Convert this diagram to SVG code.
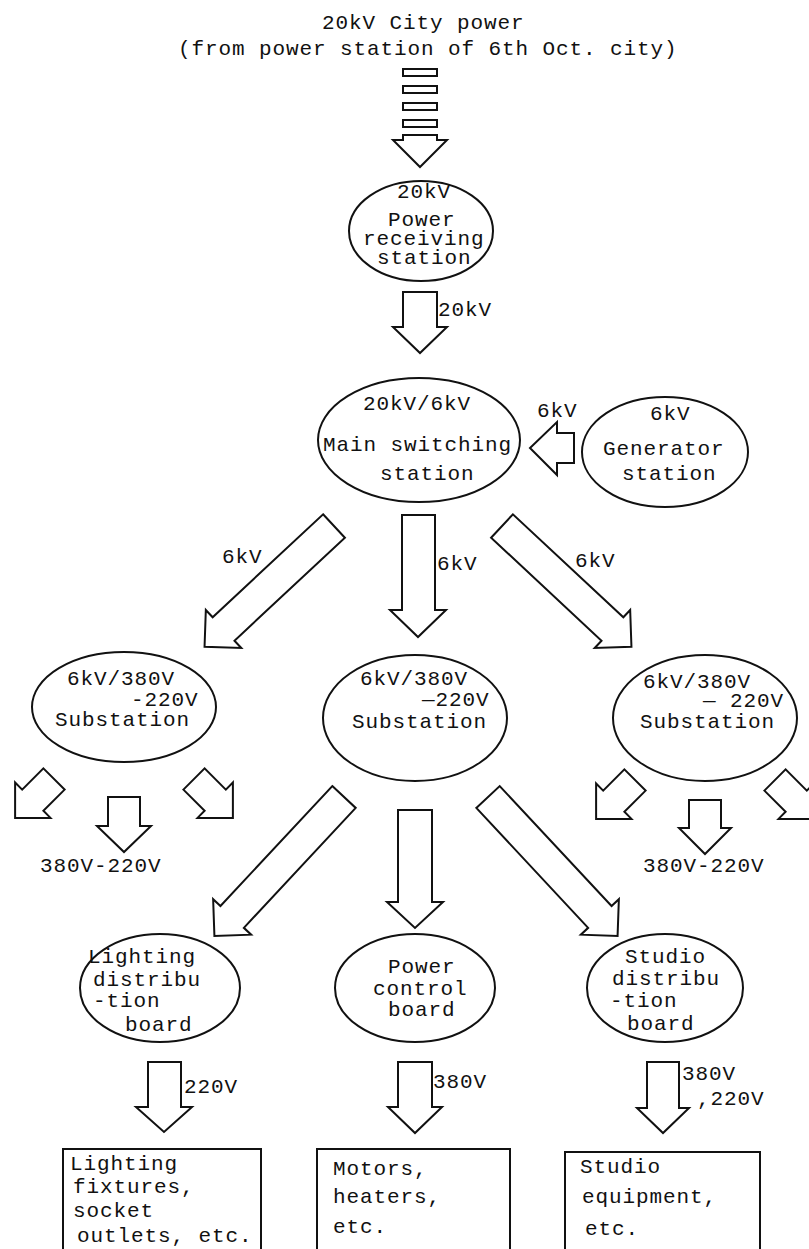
<svg xmlns="http://www.w3.org/2000/svg" width="809" height="1249" viewBox="0 0 809 1249">
<style>
.t{font-family:"Liberation Mono","Courier New",monospace;font-size:21px;fill:#111;letter-spacing:0.9px}
.n{fill:#fff;stroke:#111;stroke-width:2}
.a{fill:#fff;stroke:#111;stroke-width:2;stroke-linejoin:miter}
</style>
<defs>
<polygon id="dbig" points="-16,0 16,0 16,151 26,151 0,177 -26,151 -16,151"/>
<polygon id="dlow" points="-16,0 16,0 16,164 26,164 0,190 -26,164 -16,164"/>
<polygon id="dsm" points="-15,0 15,0 15,30 25,30 0,55 -25,30 -15,30"/>
</defs>
<rect width="809" height="1249" fill="#fff"/>

<g id="source">
<text class="t" x="322" y="29">20kV City power</text>
<text class="t" x="178" y="55">(from power station of 6th Oct. city)</text>
</g>

<g id="connectors">
<rect class="a" x="403" y="69" width="34" height="7"/>
<rect class="a" x="403" y="86" width="34" height="7"/>
<rect class="a" x="403" y="103" width="34" height="7"/>
<rect class="a" x="403" y="120" width="34" height="7"/>
<polygon class="a" points="403,135 437,135 437,140 447,140 420,167 393,140 403,140"/>
<polygon class="a" points="403,292 437,292 437,327 447,327 420,353 393,327 403,327"/>
<text class="t" x="438" y="316">20kV</text>
<polygon class="a" points="574,433 574,463 557,463 557,475 530,448 557,422 557,433"/>
<text class="t" x="537" y="417">6kV</text>
<use href="#dbig" class="a" transform="translate(334,526) rotate(47)"/>
<use href="#dbig" class="a" transform="translate(502,526) rotate(-47)"/>
<polygon class="a" points="402,515 435,515 435,610 446,610 418,637 390,610 402,610"/>
<text class="t" x="222" y="563">6kV</text>
<text class="t" x="437" y="570">6kV</text>
<text class="t" x="575" y="567">6kV</text>
<use href="#dsm" class="a" transform="translate(54,779) rotate(45)"/>
<polygon class="a" points="108,797 140,797 140,826 151,826 124,852 97,826 108,826"/>
<use href="#dsm" class="a" transform="translate(194,779) rotate(-45)"/>
<text class="t" x="40" y="872">380V-220V</text>
<use href="#dsm" class="a" transform="translate(635,780) rotate(45)"/>
<polygon class="a" points="689,800 721,800 721,828 731,828 705,854 679,828 689,828"/>
<use href="#dsm" class="a" transform="translate(775,780) rotate(-45)"/>
<text class="t" x="643" y="872">380V-220V</text>
<use href="#dlow" class="a" transform="translate(344,797) rotate(43)"/>
<polygon class="a" points="398,810 432,810 432,902 443,902 415,928 387,902 398,902"/>
<use href="#dlow" class="a" transform="translate(488,797) rotate(-43)"/>
<polygon class="a" points="148,1062 181,1062 181,1107 192,1107 164,1132 136,1107 148,1107"/>
<text class="t" x="184" y="1093">220V</text>
<polygon class="a" points="398,1062 432,1062 432,1107 442,1107 415,1133 388,1107 398,1107"/>
<text class="t" x="433" y="1088">380V</text>
<polygon class="a" points="647,1062 679,1062 679,1108 689,1108 663,1133 637,1108 647,1108"/>
<text class="t" x="682" y="1080">380V</text>
<text class="t" x="697" y="1105">,220V</text>
</g>

<g id="receiving">
<ellipse class="n" cx="421" cy="231" rx="72" ry="50"/>
<text class="t" x="397" y="198">20kV</text>
<text class="t" x="388" y="226">Power</text>
<text class="t" x="363" y="245">receiving</text>
<text class="t" x="377" y="264">station</text>
</g>

<g id="main">
<ellipse class="n" cx="419" cy="440" rx="101" ry="62"/>
<text class="t" x="363" y="410">20kV/6kV</text>
<text class="t" x="323" y="451">Main switching</text>
<text class="t" x="380" y="480">station</text>
</g>

<g id="generator">
<ellipse class="n" cx="665" cy="452" rx="83" ry="55"/>
<text class="t" x="650" y="420">6kV</text>
<text class="t" x="603" y="455">Generator</text>
<text class="t" x="622" y="480">station</text>
</g>

<g id="sub-left">
<ellipse class="n" cx="124" cy="707" rx="92" ry="55"/>
<text class="t" x="67" y="685">6kV/380V</text>
<text class="t" x="131" y="706">-220V</text>
<text class="t" x="55" y="726">Substation</text>
</g>

<g id="sub-center">
<ellipse class="n" cx="415" cy="718" rx="92" ry="63"/>
<text class="t" x="360" y="685">6kV/380V</text>
<text class="t" x="422" y="706">—220V</text>
<text class="t" x="352" y="728">Substation</text>
</g>

<g id="sub-right">
<ellipse class="n" cx="705" cy="718" rx="92" ry="63"/>
<text class="t" x="643" y="688">6kV/380V</text>
<text class="t" x="703" y="707">— 220V</text>
<text class="t" x="640" y="728">Substation</text>
</g>

<g id="lighting-board">
<ellipse class="n" cx="160" cy="988" rx="80" ry="54"/>
<text class="t" x="88" y="963">Lighting</text>
<text class="t" x="93" y="986">distribu</text>
<text class="t" x="93" y="1007">-tion</text>
<text class="t" x="125" y="1031">board</text>
</g>

<g id="power-board">
<ellipse class="n" cx="415" cy="988" rx="80" ry="54"/>
<text class="t" x="388" y="973">Power</text>
<text class="t" x="373" y="995">control</text>
<text class="t" x="388" y="1016">board</text>
</g>

<g id="studio-board">
<ellipse class="n" cx="665" cy="988" rx="78" ry="54"/>
<text class="t" x="625" y="963">Studio</text>
<text class="t" x="612" y="985">distribu</text>
<text class="t" x="610" y="1007">-tion</text>
<text class="t" x="627" y="1030">board</text>
</g>

<g id="lighting-loads">
<rect class="n" x="63" y="1149" width="198" height="120"/>
<text class="t" x="70" y="1170">Lighting</text>
<text class="t" x="73" y="1193">fixtures,</text>
<text class="t" x="73" y="1217">socket</text>
<text class="t" x="77" y="1242">outlets, etc.</text>
</g>

<g id="motor-loads">
<rect class="n" x="317" y="1149" width="193" height="120"/>
<text class="t" x="333" y="1175">Motors,</text>
<text class="t" x="333" y="1203">heaters,</text>
<text class="t" x="333" y="1233">etc.</text>
</g>

<g id="studio-loads">
<rect class="n" x="565" y="1152" width="195" height="120"/>
<text class="t" x="580" y="1173">Studio</text>
<text class="t" x="582" y="1203">equipment,</text>
<text class="t" x="585" y="1235">etc.</text>
</g>
</svg>
